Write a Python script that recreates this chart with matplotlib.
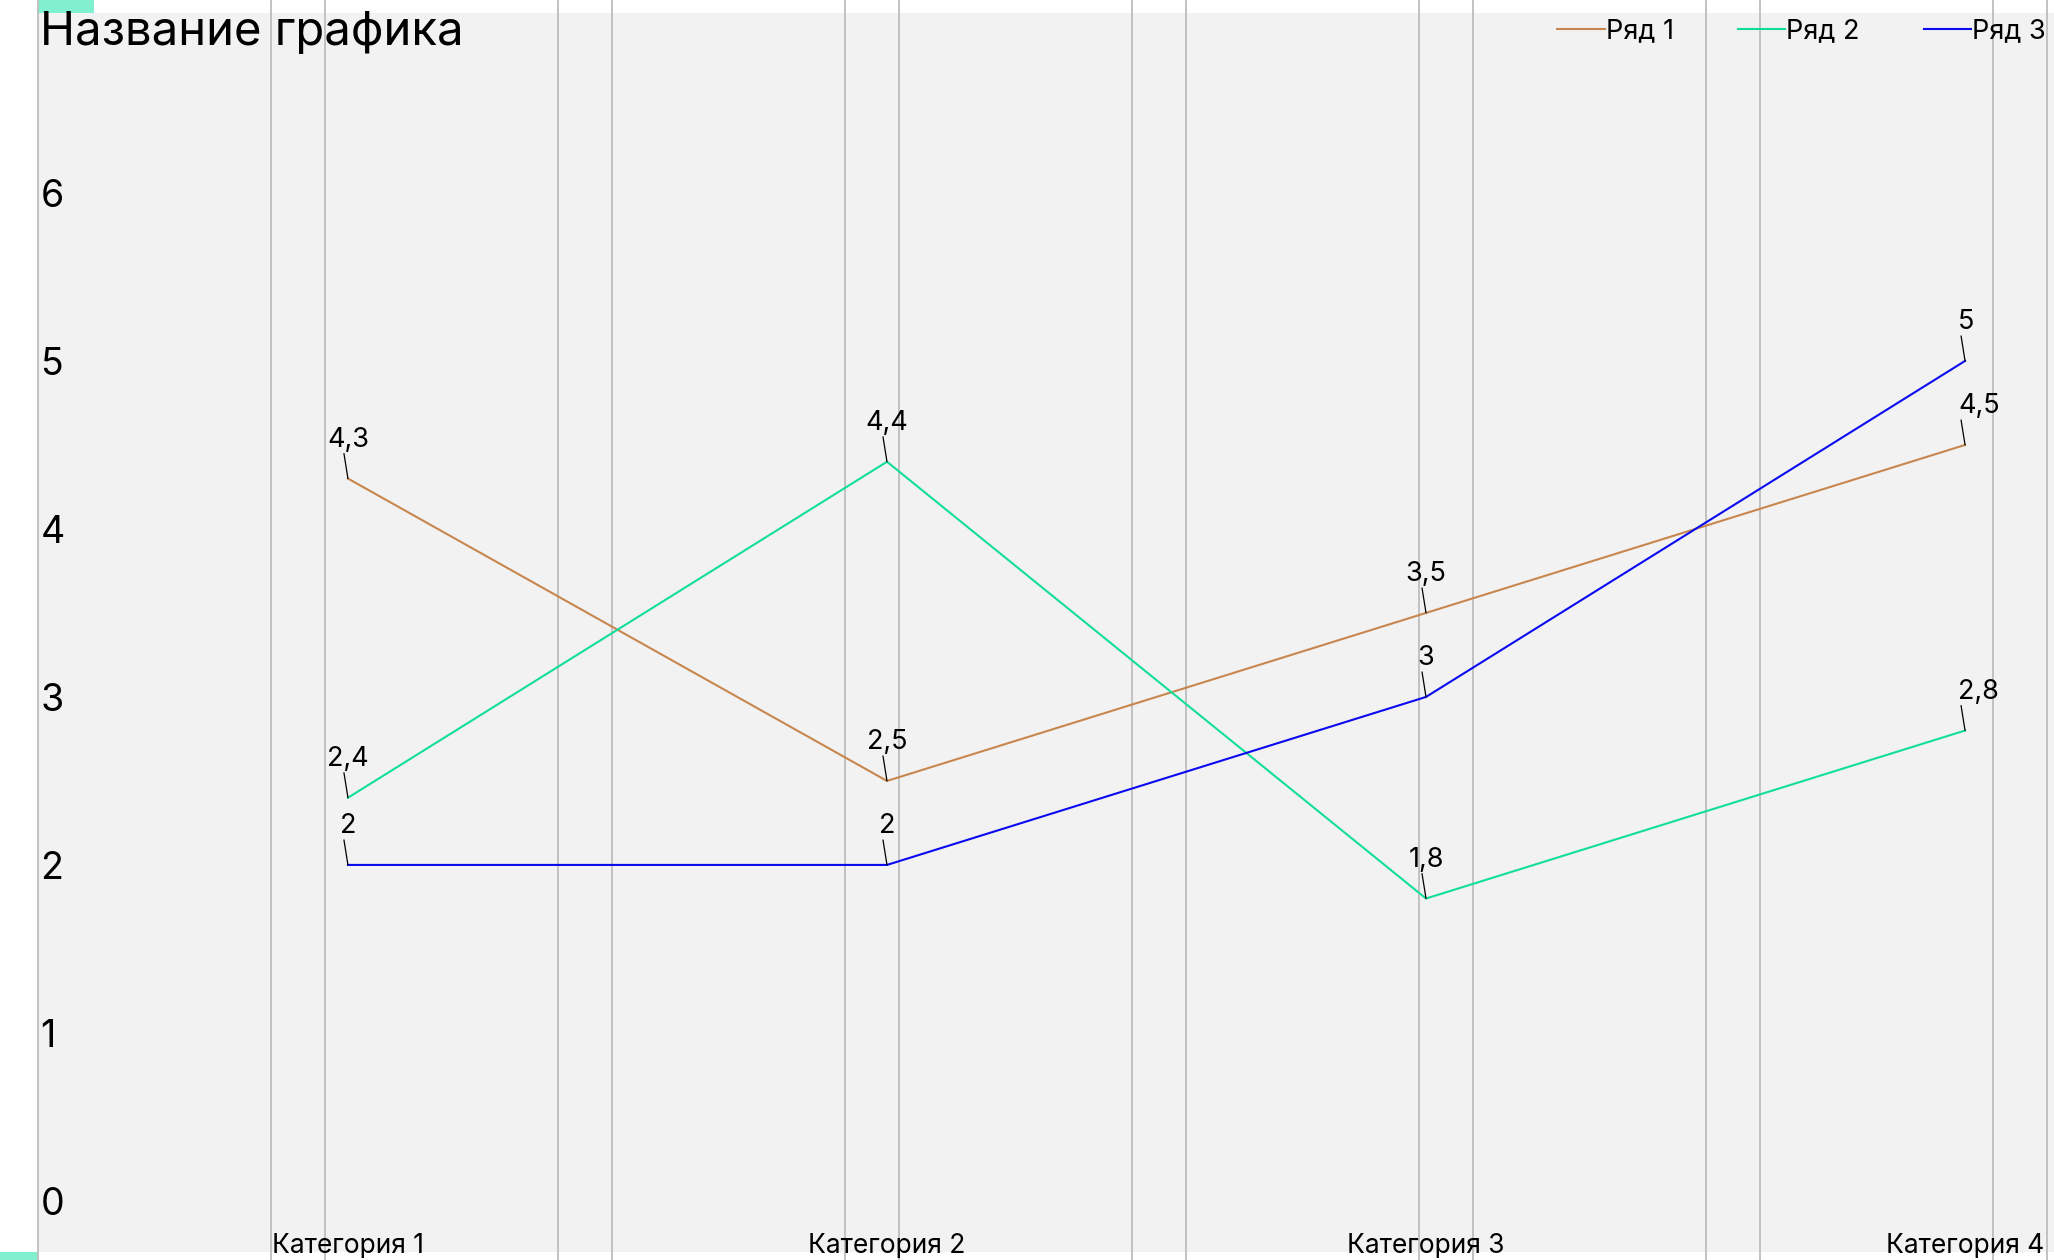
import matplotlib
matplotlib.use("Agg")
import matplotlib.pyplot as plt
from matplotlib.patches import Rectangle
from matplotlib.lines import Line2D
import numpy as np

plt.rcParams['font.family'] = ['Inter', 'DejaVu Sans']

title = "Название графика"
categories = ["Категория 1", "Категория 2", "Категория 3", "Категория 4"]
series_names = ["Ряд 1", "Ряд 2", "Ряд 3"]
series_1 = [4.3, 2.5, 3.5, 4.5]
series_2 = [2.4, 4.4, 1.8, 2.8]
series_3 = [2.0, 2.0, 3.0, 5.0]
y_ticks = [0, 1, 2, 3, 4, 5, 6]
y_tick_labels = ["0", "1", "2", "3", "4", "5", "6"]

colors = ["#C8864F", "#12DE9A", "#0A0AF0"]
W, H = 2054, 1260
DPI = 100

def fx(px):
    return px / W

def fy(py):
    return 1 - py / H

fig = plt.figure(figsize=(W / DPI, H / DPI), dpi=DPI)
fig.patch.set_facecolor("white")

# panel background
fig.add_artist(Rectangle((fx(38), fy(1252)), fx(W) - fx(38), fy(13) - fy(1252),
                         transform=fig.transFigure, facecolor="#F2F2F2",
                         edgecolor="none", zorder=-3))
# accent rectangles
fig.add_artist(Rectangle((fx(38), fy(13)), fx(94) - fx(38), fy(0) - fy(13),
                         transform=fig.transFigure, facecolor="#80F0CF",
                         edgecolor="none", zorder=-2))
fig.add_artist(Rectangle((fx(0), fy(1260)), fx(38) - fx(0), fy(1252) - fy(1260),
                         transform=fig.transFigure, facecolor="#80F0CF",
                         edgecolor="none", zorder=-2))

# layout grid lines spanning the full figure height
for gx in list(np.arange(38, W, 287)) + list(np.arange(271, W, 287)):
    fig.add_artist(Line2D([fx(gx), fx(gx)], [0, 1], transform=fig.transFigure,
                          color="#BDBDBD", lw=1.3, zorder=-1))

ax = fig.add_axes([fx(38), fy(1252), fx(W) - fx(38), fy(13) - fy(1252)])
ax.patch.set_alpha(0)
for s in ax.spines.values():
    s.set_visible(False)

x = np.arange(len(categories))
ax.set_xlim(-0.575, 3.165)
ax.set_ylim(-0.304, 7.071)

series = [series_1, series_2, series_3]
for vals, name, c in zip(series, series_names, colors):
    ax.plot(x, vals, color=c, lw=1.5, label=name, zorder=3)

def fmt(v):
    return ("%g" % v).replace(".", ",")

px2pt = 72 / DPI
for vals in series:
    for i, v in enumerate(vals):
        # leader line
        ax.annotate("", xy=(x[i], v), xytext=(-4 * px2pt, 25 * px2pt),
                    textcoords="offset points",
                    arrowprops=dict(arrowstyle="-", color="black", lw=0.9,
                                    shrinkA=0, shrinkB=0), zorder=4)
        if i == len(categories) - 1:
            ax.annotate(fmt(v), xy=(x[i], v), xytext=(-7 * px2pt, 39 * px2pt),
                        textcoords="offset points", ha="left", va="center",
                        fontsize=19.5, color="black", zorder=5)
        else:
            ax.annotate(fmt(v), xy=(x[i], v), xytext=(0, 39 * px2pt),
                        textcoords="offset points", ha="center", va="center",
                        fontsize=19.5, color="black", zorder=5)

ax.set_xticks(x)
ax.set_xticklabels(categories, fontsize=19, va="baseline")
ax.tick_params(axis="x", length=0, pad=1 * px2pt)
ax.set_yticks(y_ticks)
ax.set_yticklabels(y_tick_labels, fontsize=27, ha="left")
ax.tick_params(axis="y", length=0, pad=-2.5 * px2pt)

fig.text(fx(40), fy(45), title, fontsize=34, ha="left", va="baseline")

ax.legend(loc="center right", bbox_to_anchor=(fx(2046), fy(31.5)),
          bbox_transform=fig.transFigure, ncol=3, frameon=False,
          fontsize=19.5, handlelength=1.75, handletextpad=0.05,
          columnspacing=2.35, borderpad=0, borderaxespad=0)

fig.savefig("out.png", dpi=DPI)
